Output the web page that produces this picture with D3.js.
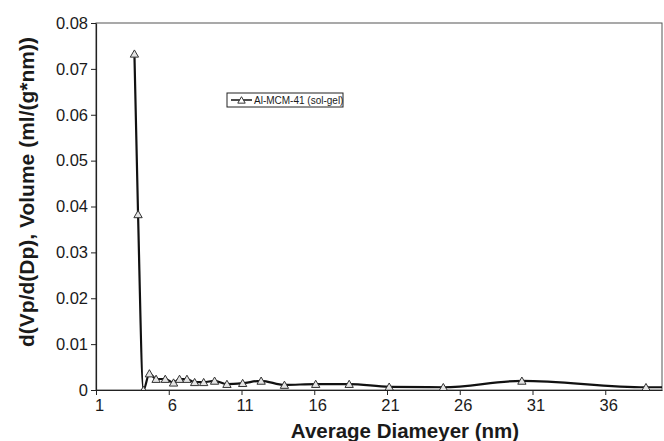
<!DOCTYPE html>
<html>
<head>
<meta charset="utf-8">
<script src="https://cdn.jsdelivr.net/npm/d3@7"></script>
<style>
    body { margin: 0; background: #fff; }
    text { font-family: "Liberation Sans", Arial, sans-serif; fill: #1a1a1a; }
</style>
</head>
<body>
<div id="chart"></div>
<script>

// pore size distribution
var seriesName = "Al-MCM-41 (sol-gel)";
var diameters = [3.64, 3.89, 4.26, 4.67, 5.13, 5.76, 6.33, 6.74, 7.25, 7.78, 8.4, 9.15, 10.0,
    11.08, 12.35, 13.95, 16.1, 18.4, 21.15, 24.87, 30.27, 38.8, 42];
var volumes = [0.0733, 0.0383, 0, 0.0036, 0.0024, 0.0024, 0.0016, 0.0024, 0.0024, 0.0017, 0.0017, 0.002, 0.0013,
    0.0015, 0.002, 0.0011, 0.0013, 0.0013, 0.0007, 0.0006, 0.002, 0.0006, 0.0006];

var xTicks = [1, 6, 11, 16, 21, 26, 31, 36];
var yTicks = [0, 0.01, 0.02, 0.03, 0.04, 0.05, 0.06, 0.07, 0.08];
var xTitle = "Average Diameyer (nm)";
var yTitle = "d(Vp/d(Dp), Volume (ml/(g*nm))";

var svgWidth = 664, svgHeight = 441;
var margin = {top: 23, right: 2, bottom: 51, left: 96};
var width = svgWidth - margin.left - margin.right;
var height = svgHeight - margin.top - margin.bottom;

var svg = d3.select("#chart").append("svg")
    .attr("width", svgWidth)
    .attr("height", svgHeight);

var g = svg.append("g")
    .attr("transform", "translate(" + margin.left + "," + margin.top + ")");

var xScale = d3.scaleLinear().domain([1, 39.9]).range([0, width]);
var yScale = d3.scaleLinear().domain([0, 0.08]).range([height, 0]);

var points = diameters.map(function (d, i) { return {x: d, y: volumes[i]}; });

// plot frame
g.append("rect")
    .attr("width", width)
    .attr("height", height)
    .attr("fill", "#fff")
    .attr("stroke", "#555")
    .attr("stroke-width", 1);

g.append("clipPath").attr("id", "plot-clip")
    .append("rect").attr("width", width).attr("height", height + 5).attr("y", -5);

//axes
var xAxis = g.append("g")
    .attr("transform", "translate(0," + height + ")")
    .call(d3.axisBottom(xScale).tickValues(xTicks).tickSize(5).tickSizeOuter(0).tickFormat(d3.format("d")));

var yAxis = g.append("g")
    .call(d3.axisLeft(yScale).tickValues(yTicks).tickSize(5).tickSizeOuter(0)
        .tickFormat(function (d) { return d === 0 ? "0" : d.toFixed(2); }));

[xAxis, yAxis].forEach(function (ax) {
    ax.select(".domain").attr("stroke", "#222").attr("stroke-width", 1.2);
    ax.selectAll(".tick line").attr("stroke", "#222");
    ax.selectAll("text").attr("font-size", 16.5).attr("fill", "#1a1a1a").style("font-family", null);
});
xAxis.selectAll("text").attr("dx", 3).attr("dy", "0.8em");
yAxis.selectAll("text").attr("x", -8);

// the series
var line = d3.line()
    .x(function (d) { return xScale(d.x); })
    .y(function (d) { return yScale(d.y); })
    .curve(d3.curveMonotoneX);

var plot = g.append("g").attr("clip-path", "url(#plot-clip)");

plot.append("path")
    .datum(points)
    .attr("d", line)
    .attr("fill", "none")
    .attr("stroke", "#111")
    .attr("stroke-width", 2.2);

var tri = d3.symbol().type(d3.symbolTriangle).size(30);

plot.selectAll(".marker")
    .data(points)
    .enter()
    .append("path")
    .attr("class", "marker")
    .attr("transform", function (d) { return "translate(" + xScale(d.x) + "," + (yScale(d.y) + 1) + ")"; })
    .attr("d", tri)
    .attr("fill", "#e4e4e4")
    .attr("stroke", "#333")
    .attr("stroke-width", 1);

// legend box
var legend = svg.append("g").attr("transform", "translate(227,93)");
legend.append("rect")
    .attr("width", 116).attr("height", 14)
    .attr("fill", "#fff").attr("stroke", "#222").attr("stroke-width", 1);
legend.append("line")
    .attr("x1", 4).attr("x2", 25).attr("y1", 7).attr("y2", 7)
    .attr("stroke", "#111").attr("stroke-width", 1.5);
legend.append("path")
    .attr("transform", "translate(14.5,8)")
    .attr("d", d3.symbol().type(d3.symbolTriangle).size(24))
    .attr("fill", "#fff").attr("stroke", "#333");
legend.append("text")
    .attr("x", 27).attr("y", 10.5)
    .attr("font-size", 10)
    .text(seriesName);

// axis titles
svg.append("text")
    .attr("x", 405).attr("y", 438)
    .attr("text-anchor", "middle")
    .attr("font-size", 20.5)
    .attr("font-weight", "bold")
    .text(xTitle);

svg.append("text")
    .attr("transform", "translate(34,192) rotate(-90)")
    .attr("text-anchor", "middle")
    .attr("font-size", 21)
    .attr("font-weight", "bold")
    .text(yTitle);

</script>
</body>
</html>
